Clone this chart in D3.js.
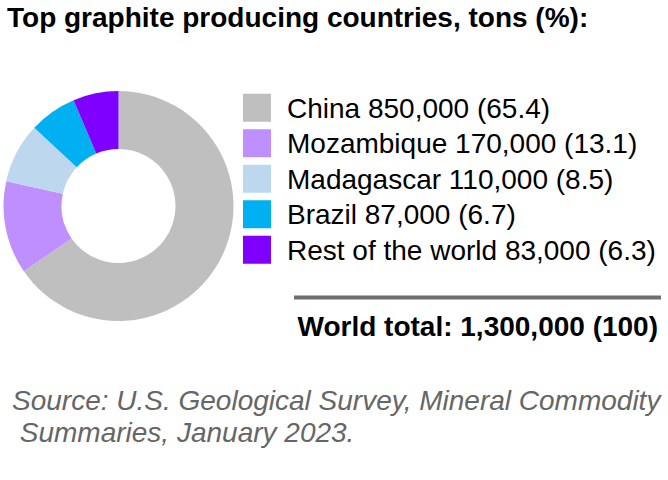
<!DOCTYPE html>
<html><head><meta charset="utf-8">
<script src="https://cdn.jsdelivr.net/npm/d3@7/dist/d3.min.js"></script>
<style>body{margin:0;background:#fff}svg{display:block}</style>
</head><body>
<svg id="c" width="668" height="480"></svg>
<script>
const titleText = "Top graphite producing countries, tons (%):";
const categories = ["China", "Mozambique", "Madagascar", "Brazil", "Rest of the world"];
const values = [850000, 170000, 110000, 87000, 83000];
const percents = ["65.4", "13.1", "8.5", "6.7", "6.3"];
const colors = ["#BFBFBF", "#BF8FFF", "#BDD7EE", "#00B0F0", "#7F00FF"];
const totalText = "World total: 1,300,000 (100)";
const sourceLines = ["Source: U.S. Geological Survey, Mineral Commodity", " Summaries, January 2023."];

const svg = d3.select("#c");
const fmt = d3.format(",");
const narrow = "'Liberation Sans Narrow','Arial Narrow','Liberation Sans',Arial,sans-serif";
const sans = "'Liberation Sans',Arial,sans-serif";

svg.append("text").attr("x", 7).attr("y", 27)
  .style("font-family", narrow).style("font-weight", "bold").style("font-size", "28px")
  .attr("fill", "#000").text(titleText);

const pie = d3.pie().sort(null).value(d => d)(values);
const arc = d3.arc().innerRadius(57).outerRadius(115);
const g = svg.append("g").attr("transform", "translate(118.5,206)");
g.selectAll("path").data(pie).join("path")
  .attr("d", arc).attr("fill", (d, i) => colors[i]);

const y = d3.scaleBand().domain(categories).range([90, 267.5]);
const lg = svg.append("g");
const rows = lg.selectAll("g").data(categories).join("g")
  .attr("transform", d => `translate(0,${y(d) + y.bandwidth() / 2})`);
rows.append("rect").attr("x", 243).attr("y", -14).attr("width", 28).attr("height", 28)
  .attr("fill", (d, i) => colors[i]);
rows.append("text").attr("x", 287).attr("y", 10)
  .style("font-family", sans).style("font-size", "28px").attr("fill", "#000")
  .text((d, i) => `${d} ${fmt(values[i])} (${percents[i]})`);

svg.append("line").attr("x1", 294).attr("x2", 661).attr("y1", 297.5).attr("y2", 297.5)
  .attr("stroke", "#6e6e6e").attr("stroke-width", 4);

svg.append("text").attr("x", 658).attr("y", 336).attr("text-anchor", "end")
  .style("font-family", sans).style("font-weight", "bold").style("font-size", "28px")
  .attr("fill", "#000").text(totalText);

svg.append("g").selectAll("text").data(sourceLines).join("text")
  .attr("x", 12).attr("y", (d, i) => 410 + i * 32)
  .style("font-family", narrow).style("font-style", "italic").style("font-size", "28px")
  .style("white-space", "pre").attr("xml:space", "preserve")
  .attr("fill", "#666").text(d => d);
</script>
</body></html>
